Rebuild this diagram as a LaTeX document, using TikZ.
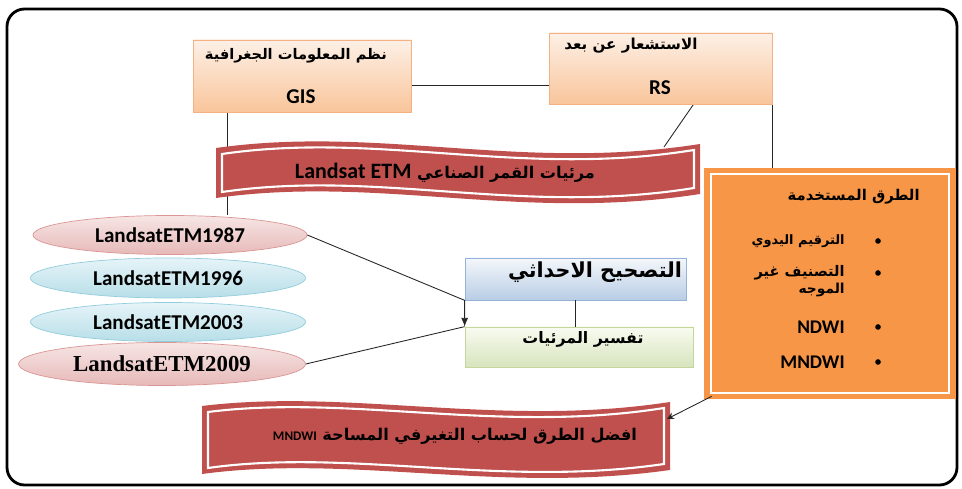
\documentclass[tikz,border=0pt]{standalone}
\usepackage{fontspec}
\usepackage{graphicx}
\setmainfont{Carlito}
\newfontfamily\arabicfont[Script=Arabic]{DejaVu Sans}
\newfontfamily\timesfont{Liberation Serif}
\TeXXeTstate=1
\usetikzlibrary{arrows.meta,shapes.geometric,shadows,fit,calc}

\definecolor{peachtop}{HTML}{FDF0E6}
\definecolor{peachbot}{HTML}{F9C59B}
\definecolor{peachline}{HTML}{F4B183}
\definecolor{bluetop}{HTML}{F4F7FB}
\definecolor{bluebot}{HTML}{B9CDE5}
\definecolor{blueline}{HTML}{95B3D7}
\definecolor{greentop}{HTML}{F8FBF1}
\definecolor{greenbot}{HTML}{D7E4BD}
\definecolor{greenline}{HTML}{C3D69B}
\definecolor{pinktop}{HTML}{F6E6E5}
\definecolor{pinkbot}{HTML}{E6B9B8}
\definecolor{pinkline}{HTML}{DA9694}
\definecolor{cyantop}{HTML}{E6F4F8}
\definecolor{cyanbot}{HTML}{B7DEE8}
\definecolor{cyanline}{HTML}{92CDDC}
\definecolor{bannerred}{HTML}{C0504D}
\definecolor{methodorange}{HTML}{F79646}

\pgfdeclarelayer{bg}
\pgfsetlayers{bg,main}

% arabic text squeezed to the width it has in the figure
\newcommand{\fitar}[2]{\resizebox{#1}{!}{\arabicfont\bfseries #2}}
\newcommand{\latinpart}[1]{\beginL{\normalfont\bfseries #1}\endL{}}

\tikzset{
  peachbox/.style={draw=peachline, top color=peachtop, bottom color=peachbot, inner sep=0pt,
    drop shadow={opacity=0.25, shadow xshift=0.6pt, shadow yshift=-0.8pt}},
  bluebox/.style={draw=blueline, top color=bluetop, bottom color=bluebot, inner sep=0pt,
    drop shadow={opacity=0.25, shadow xshift=0.6pt, shadow yshift=-0.8pt}},
  greenbox/.style={draw=greenline, top color=greentop, bottom color=greenbot, inner sep=0pt,
    drop shadow={opacity=0.25, shadow xshift=0.6pt, shadow yshift=-0.8pt}},
  pinkell/.style={ellipse, draw=pinkline, top color=pinktop, bottom color=pinkbot, inner sep=0pt,
    font=\fontsize{12}{14}\selectfont\bfseries},
  cyanell/.style={ellipse, draw=cyanline, top color=cyantop, bottom color=cyanbot, inner sep=0pt,
    font=\fontsize{12}{14}\selectfont\bfseries},
  arlabel/.style={inner sep=0pt, font=\fontsize{10}{10}\selectfont},
  dot/.style={circle, fill=black, inner sep=0pt, minimum size=3.2pt},
  link/.style={draw=black!85, line width=0.5pt}
}

\begin{document}
\begin{tikzpicture}[x=0.2mm, y=-0.2mm]
\useasboundingbox (0,0) rectangle (962,489);

% outer frame
\node[draw, line width=1.6pt, rounded corners=10pt, inner sep=0pt, fit={(7,9) (957,485)}] (frame) {};

% GIS and RS
\node[peachbox, fit={(193,40) (411,112)}] (GIS) {};
\node[arlabel] (GIS ar) at (296,56) {\fitar{36.4mm}{\beginR نظم المعلومات الجغرافية\endR}};
\node[font=\fontsize{12}{14}\selectfont\bfseries] (GIS en) at (301,97) {GIS};

\node[peachbox, fit={(549,33) (772,104)}] (RS) {};
\node[arlabel] (RS ar) at (631,46) {\fitar{26.6mm}{\beginR الاستشعار عن بعد\endR}};
\node[font=\fontsize{12}{14}\selectfont\bfseries] (RS en) at (660,88) {RS};

% satellite banner
\fill[bannerred] (216,148) .. controls (380,125) and (520,172) .. (700,144)
  -- (700,194) .. controls (520,222) and (380,175) .. (216,198) -- cycle;
\draw[white, line width=1.2pt] (222,154) .. controls (380,131) and (520,178) .. (694,150)
  -- (694,188) .. controls (520,216) and (380,169) .. (222,192) -- cycle;
\node[arlabel, font=\fontsize{9.2}{9.2}\selectfont] (Sat) at (445,173)
  {\fitar{60mm}{\beginR مرئيات القمر الصناعي \latinpart{\fontsize{12.5}{12.5}\selectfont Landsat ETM}\endR}};
\coordinate (sat ne) at (664,147);

% scenes
\node[pinkell, minimum width=54.8mm, minimum height=7.8mm] (Y1987) at (170,235) {LandsatETM1987};
\node[cyanell, minimum width=55mm, minimum height=8mm] (Y1996) at (168,278) {LandsatETM1996};
\node[cyanell, minimum width=55mm, minimum height=7.8mm] (Y2003) at (168,322) {LandsatETM2003};
\node[pinkell, minimum width=57.4mm, minimum height=8.6mm, font=\fontsize{13}{15}\selectfont\timesfont\bfseries] (Y2009) at (162,364) {LandsatETM2009};

% processing
\node[bluebox, fit={(465,258) (686,300)}] (Correct) {};
\node[arlabel] (Correct ar) at (595,272) {\fitar{34.8mm}{\beginR التصحيح الاحداثي\endR}};
\node[greenbox, fit={(465,327) (693,367)}] (Interp) {};
\node[arlabel] (Interp ar) at (583,339) {\fitar{24.2mm}{\beginR تفسير المرئيات\endR}};

% methods
\node[fill=methodorange, inner sep=0pt, fit={(704,168) (956,399)}] (Methods) {};
\draw[white, line width=1.2pt] ($(Methods.south west)+(7,-6)$) rectangle ($(Methods.north east)+(-7,6)$);
\node[arlabel, anchor=east] (Methods ttl) at (920,197) {\fitar{26.4mm}{\beginR الطرق المستخدمة\endR}};
\node[dot] (b1) at (878,241) {};
\node[dot] (b2) at (878,273) {};
\node[dot] (b3) at (878,327) {};
\node[dot] (b4) at (878,362) {};
\node[arlabel, anchor=east] (m1) at (845,241) {\fitar{18.6mm}{\beginR الترقيم اليدوي\endR}};
\node[arlabel, anchor=east, align=right, font=\fontsize{10}{10.5}\selectfont] (m2) at (845,281)
  {\fitar{18mm}{\beginR التصنيف غير\endR}\\[-1pt]\fitar{9.2mm}{\beginR الموجه\endR}};
\node[anchor=east, inner sep=0pt, font=\fontsize{11}{13}\selectfont\bfseries] (m3) at (845,327) {NDWI};
\node[anchor=east, inner sep=0pt, font=\fontsize{11}{13}\selectfont\bfseries] (m4) at (845,362) {MNDWI};

% result banner
\fill[bannerred] (202,406) .. controls (350,388) and (500,428) .. (670,402)
  -- (670,470) .. controls (500,494) and (350,454) .. (202,474) -- cycle;
\draw[white, line width=1.2pt] (208,412) .. controls (350,394) and (500,434) .. (664,408)
  -- (664,464) .. controls (500,488) and (350,448) .. (208,468) -- cycle;
\node[arlabel, font=\fontsize{9.2}{9.2}\selectfont] (Best) at (455,436)
  {\fitar{72.8mm}{\beginR افضل الطرق لحساب التغيرفي المساحة \latinpart{\fontsize{7.5}{7.5}\selectfont MNDWI}\endR}};
\coordinate (best ne) at (667,419);

% connectors
\begin{pgfonlayer}{bg}
\draw[link] (GIS.east) ++(0,9) coordinate (g) -- (g -| RS.west);
\draw[link] (GIS.south west) ++(35,0) coordinate (gisfoot) -- (gisfoot |- Y1987.north);
\draw[link] (RS.south) ++(33,0) -- (sat ne);
\draw[link] (RS.east) ++(0,17) coordinate (r) -- (r |- Methods.north);
\end{pgfonlayer}
\draw[link, -{Latex[length=5pt,width=4pt]}] (Y1987.east) -- (Correct.south west) -- (Interp.north west);
\draw[link] (Y2009.east) -- (Interp.north west);
\draw[link] (Correct.south) -- (Correct.south |- Interp.north);
\draw[link, -{Stealth[length=4pt,width=4pt]}] (Methods.south west) ++(8,-3) -- (best ne);

\end{tikzpicture}
\end{document}
